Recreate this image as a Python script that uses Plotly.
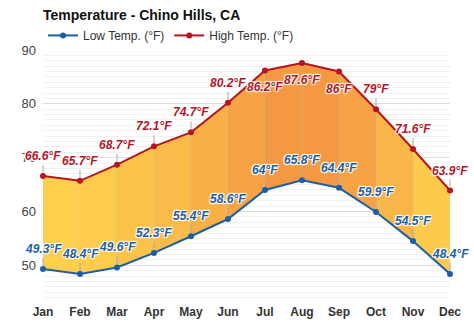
import plotly.graph_objects as go

months = ["Jan", "Feb", "Mar", "Apr", "May", "Jun", "Jul", "Aug", "Sep", "Oct", "Nov", "Dec"]
low_temp = [49.3, 48.4, 49.6, 52.3, 55.4, 58.6, 64.0, 65.8, 64.4, 59.9, 54.5, 48.4]
high_temp = [66.6, 65.7, 68.7, 72.1, 74.7, 80.2, 86.2, 87.6, 86.0, 79.0, 71.6, 63.9]
high_label_below = [False, False, False, False, False, False, True, True, True, False, False, False]
y_ticks = [50, 60, 70, 80, 90]

LOW_C = "#1d5fa6"
HIGH_C = "#b5161f"
FONT = "Liberation Sans, Arial, sans-serif"

x = list(range(len(months)))

def lbl(v):
    s = ("%.1f" % v).rstrip("0").rstrip(".")
    return s + "°F"

def mix(t):
    c0 = (255, 212, 78)
    c1 = (245, 150, 66)
    t = max(0.0, min(1.0, t))
    return "rgb(%d,%d,%d)" % tuple(round(a + (b - a) * t) for a, b in zip(c0, c1))

fig = go.Figure()

hmin, hmax = min(high_temp), max(high_temp)
for i in range(len(x) - 1):
    avg = (high_temp[i] + high_temp[i + 1]) / 2
    t = (avg - hmin) / (hmax - hmin)
    fig.add_trace(go.Scatter(
        x=[x[i], x[i + 1], x[i + 1], x[i], x[i]],
        y=[high_temp[i], high_temp[i + 1], low_temp[i + 1], low_temp[i], high_temp[i]],
        mode="lines", fill="toself", fillcolor=mix(t),
        line=dict(width=0), showlegend=False, hoverinfo="skip"))

# vertical month lines between low and high
vx, vy = [], []
for i in x:
    vx += [x[i], x[i], None]
    vy += [low_temp[i], high_temp[i], None]
fig.add_trace(go.Scatter(x=vx, y=vy, mode="lines",
                         line=dict(color="rgba(190,190,190,0.35)", width=1),
                         showlegend=False, hoverinfo="skip"))

fig.add_trace(go.Scatter(x=x, y=low_temp, mode="lines+markers", name="Low Temp. (°F)",
                         line=dict(color=LOW_C, width=2),
                         marker=dict(color=LOW_C, size=6), cliponaxis=False))
fig.add_trace(go.Scatter(x=x, y=high_temp, mode="lines+markers", name="High Temp. (°F)",
                         line=dict(color=HIGH_C, width=2),
                         marker=dict(color=HIGH_C, size=6), cliponaxis=False))

shadow = "1px 1px 1px white, -1px -1px 1px white, 1px -1px 1px white, -1px 1px 1px white"
for i in x:
    below = high_label_below[i]
    fig.add_annotation(x=x[i], y=high_temp[i], text=lbl(high_temp[i]),
                       showarrow=not below, arrowhead=0, arrowwidth=1, arrowcolor="#aaaaaa",
                       ax=0, ay=-11, standoff=3,
                       yshift=-17 if below else 0, yanchor="middle" if below else "bottom",
                       font=dict(family=FONT, size=12, color=HIGH_C, weight="bold",
                                 style="italic", shadow=shadow))
    fig.add_annotation(x=x[i], y=low_temp[i], text=lbl(low_temp[i]),
                       showarrow=True, arrowhead=0, arrowwidth=1, arrowcolor="#aaaaaa",
                       ax=0, ay=-11, standoff=3, yanchor="bottom",
                       font=dict(family=FONT, size=12, color=LOW_C, weight="bold",
                                 style="italic", shadow=shadow))

fig.update_layout(
    width=474, height=331,
    margin=dict(l=43, r=24, t=50, b=28),
    paper_bgcolor="white", plot_bgcolor="white",
    font=dict(family=FONT, size=12, color="#333333"),
    title=dict(text="<b>Temperature - Chino Hills, CA</b>", x=43 / 474, xanchor="left",
               y=1 - 15 / 331, yanchor="middle",
               font=dict(family=FONT, size=14, color="#111111")),
    legend=dict(orientation="h", x=0.0, xanchor="left", y=1.115, yanchor="top",
                font=dict(family=FONT, size=12, color="#333333"),
                bgcolor="rgba(0,0,0,0)", itemwidth=30, tracegroupgap=0),
    xaxis=dict(range=[0, 11], tickvals=x, ticktext=months, showgrid=False,
               zeroline=False, showline=False, ticks="",
               tickfont=dict(family=FONT, size=12, color="#333333", weight="bold")),
    yaxis=dict(range=[43, 90], tickvals=y_ticks, showgrid=True, gridcolor="#dddddd",
               gridwidth=1, zeroline=False, showline=False, ticks="",
               ticklabelstandoff=6,
               tickfont=dict(family=FONT, size=13, color="#444444"),
               minor=dict(dtick=1, showgrid=True, gridcolor="#f1f1f1", gridwidth=1)),
    showlegend=True,
)

fig.write_html("out.html")
